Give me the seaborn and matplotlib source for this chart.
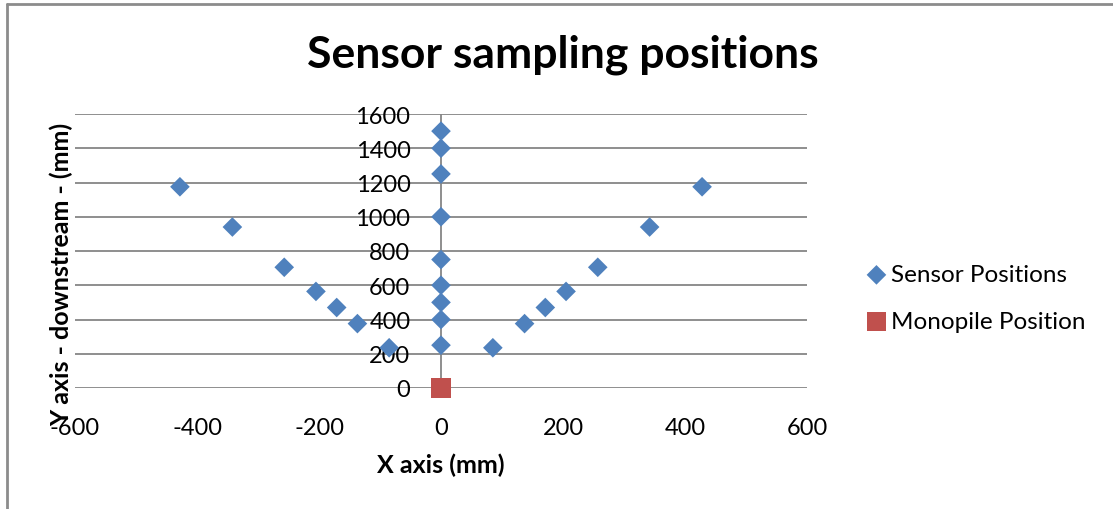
import matplotlib
matplotlib.use("Agg")
import matplotlib.pyplot as plt
from matplotlib.lines import Line2D
import seaborn as sns
import pandas as pd

# Data
sensor_x = [0, 0, 0, 0, 0, 0, 0, 0, 0,
            -85, -137, -171, -205, -257, -342, -428,
            85, 137, 171, 205, 257, 342, 428]
sensor_y = [250, 400, 500, 600, 750, 1000, 1250, 1400, 1500,
            235, 376, 470, 564, 705, 940, 1175,
            235, 376, 470, 564, 705, 940, 1175]
monopile_x = [0]
monopile_y = [0]
x_ticks = [-600, -400, -200, 0, 200, 400, 600]
y_ticks = [0, 200, 400, 600, 800, 1000, 1200, 1400, 1600]

sns.set_style("white")
plt.rcParams['font.family'] = ['Lato', 'DejaVu Sans']
plt.rcParams['axes.unicode_minus'] = False
plt.rcParams['text.color'] = 'black'
plt.rcParams['axes.labelcolor'] = 'black'

fig = plt.figure(figsize=(11.13, 5.10), dpi=100)
ax = fig.add_axes([75/1113, 1-389/510, 732/1113, 274/510])

grid = "#868686"
for yv in y_ticks:
    ax.axhline(yv, color=grid, lw=1.3, zorder=0)
ax.axvline(0, color=grid, lw=1.3, zorder=1)

df_s = pd.DataFrame({"x": sensor_x, "y": sensor_y})
df_m = pd.DataFrame({"x": monopile_x, "y": monopile_y})
sns.scatterplot(data=df_s, x="x", y="y", marker="D", s=100, color="#4F81BD",
                edgecolor="none", ax=ax, label="Sensor Positions", zorder=3, clip_on=False)
sns.scatterplot(data=df_m, x="x", y="y", marker="s", s=200, color="#C0504D",
                edgecolor="none", ax=ax, label="Monopile Position", zorder=3, clip_on=False)

ax.set_xlim(-600, 600)
ax.set_ylim(0, 1600)
ax.set_xticks(x_ticks)
ax.set_yticks(y_ticks)
for s in ax.spines.values():
    s.set_visible(False)
ax.spines['left'].set_position(('data', 0))
ax.tick_params(axis='both', length=0, labelsize=17, colors="black")
ax.tick_params(axis='x', pad=21)
ax.tick_params(axis='y', pad=22)

ax.set_xlabel("")
ax.set_ylabel("")
fig.text(441/1113, 1-465/510, "X axis (mm)", fontsize=18, fontweight='bold',
         ha='center', va='center')
fig.text(62/1113, 1-274/510, "Y axis - downstream - (mm)", rotation=90, fontsize=18,
         fontweight='bold', ha='center', va='center')
fig.text(563/1113, 1-55/510, "Sensor sampling positions", fontsize=32, fontweight='bold',
         ha='center', va='center')

leg = ax.legend(loc='center left', bbox_to_anchor=(840/1113, 1-299/510),
                bbox_transform=fig.transFigure, frameon=False, fontsize=17.5,
                handletextpad=0.0, labelspacing=1.05, handlelength=1.2)

border = "#8c8c8c"
fig.add_artist(Line2D([6.5/1113, 6.5/1113], [0, 1-4.5/510], color=border, lw=2,
                      transform=fig.transFigure))
fig.add_artist(Line2D([6.5/1113, 1], [1-4.5/510, 1-4.5/510], color=border, lw=2,
                      transform=fig.transFigure))

fig.savefig("out.png", dpi=100)
